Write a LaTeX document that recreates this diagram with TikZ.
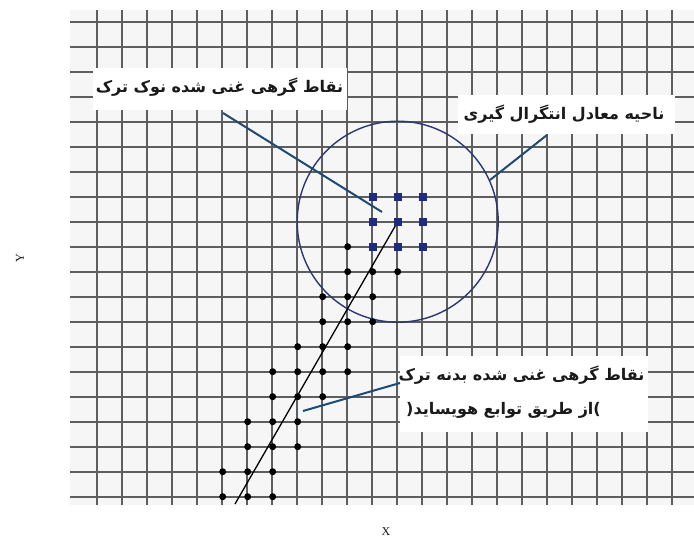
\documentclass[tikz,border=0pt]{standalone}
\usepackage{fontspec}
\setmainfont{Liberation Serif}
\newfontfamily\arabicfont[Script=Arabic]{DejaVu Sans}
\TeXXeTstate=1
\definecolor{gridc}{HTML}{5E5E5E}
\definecolor{bgc}{HTML}{F6F6F6}
\definecolor{navy}{HTML}{1E2B80}
\definecolor{circc}{HTML}{2C3874}
\definecolor{leadc}{HTML}{1F4B73}
\definecolor{txtc}{HTML}{1A1A1A}
\tikzset{
  gridline/.style={gridc, line width=1.8pt},
  nodesq/.style={fill=navy, draw=none, minimum size=8pt, inner sep=0pt, rectangle},
  nodedot/.style={fill=black, draw=none, minimum size=7pt, inner sep=0pt, circle},
  leader/.style={leadc, line width=2pt},
  labelbox/.style={fill=white, draw=none, inner sep=0pt, rectangle},
  fatxt/.style={text=txtc, inner sep=0pt, font=\arabicfont\bfseries\fontsize{16}{19}\selectfont},
  axlabel/.style={text=txtc, inner sep=0pt, font=\fontsize{12}{14}\selectfont}
}
\begin{document}
\begin{tikzpicture}[x=1pt,y=-1pt]
\useasboundingbox (0,0) rectangle (694,540);
\fill[white] (0,0) rectangle (694,540);
\fill[bgc] (70,10) rectangle (694,505);
% grid
\foreach \i in {0,...,23} \draw[gridline] (96.7+25*\i,10) -- (96.7+25*\i,505);
\foreach \j in {0,...,19} \draw[gridline] (70,21.7+25*\j) -- (694,21.7+25*\j);
% integration region
\node[circle, draw=circc, line width=1.4pt, minimum size=201pt, inner sep=0pt] (region) at (397.7,221.7) {};
% crack
\coordinate (tip) at (397.7,221.7);
\coordinate (crackend) at (235,504);
\draw[black, line width=1.3pt] (tip) -- (crackend);
% body enriched nodes (dots)
\foreach \x/\y [count=\k] in {
 347.7/246.7,
 347.7/271.7, 372.7/271.7, 397.7/271.7,
 322.7/296.7, 347.7/296.7, 372.7/296.7,
 322.7/321.7, 347.7/321.7, 372.7/321.7,
 297.7/346.7, 322.7/346.7, 347.7/346.7,
 272.7/371.7, 297.7/371.7, 322.7/371.7, 347.7/371.7,
 272.7/396.7, 297.7/396.7, 322.7/396.7,
 247.7/421.7, 272.7/421.7, 297.7/421.7,
 247.7/446.7, 272.7/446.7, 297.7/446.7,
 222.7/471.7, 247.7/471.7, 272.7/471.7,
 222.7/496.7, 247.7/496.7, 272.7/496.7}
 \node[nodedot] (d\k) at (\x,\y) {};
% tip enriched nodes (squares)
\foreach \x/\y [count=\k] in {
 372.7/196.7, 397.7/196.7, 422.7/196.7,
 372.7/221.7, 397.7/221.7, 422.7/221.7,
 372.7/246.7, 397.7/246.7, 422.7/246.7}
 \node[nodesq] (s\k) at (\x,\y) {};
% label boxes
\node[labelbox, minimum width=254pt, minimum height=42pt] (tipbox) at (220,89) {};
\node[labelbox, minimum width=217pt, minimum height=39pt] (regbox) at (566.5,114.5) {};
\node[labelbox, minimum width=248pt, minimum height=76pt] (bodybox) at (524,394) {};
% leader lines
\coordinate (l1a) at (223,113);
\coordinate (l1b) at (382,212);
\coordinate (l2a) at (547,135);
\coordinate (l2b) at (490,180);
\coordinate (l3a) at (400,383);
\coordinate (l3b) at (303,411);
\draw[leader] (l1a) -- (l1b);
\draw[leader] (l2a) -- (l2b);
\draw[leader] (l3a) -- (l3b);
% texts
\node[fatxt] (t1) at (219.5,87) {\beginR نقاط گرهی غنی شده نوک ترک\endR};
\node[fatxt] (t2) at (564,114) {\beginR ناحیه معادل انتگرال گیری\endR};
\node[fatxt] (t3) at (521.5,375) {\beginR نقاط گرهی غنی شده بدنه ترک\endR};
\node[fatxt] (t4) at (503.5,410) {(\beginR از طریق توابع هویساید\endR)};
% axis labels
\node[axlabel] (xl) at (386,532) {X};
\node[axlabel, rotate=90] (yl) at (20,258) {Y};
\end{tikzpicture}
\end{document}
